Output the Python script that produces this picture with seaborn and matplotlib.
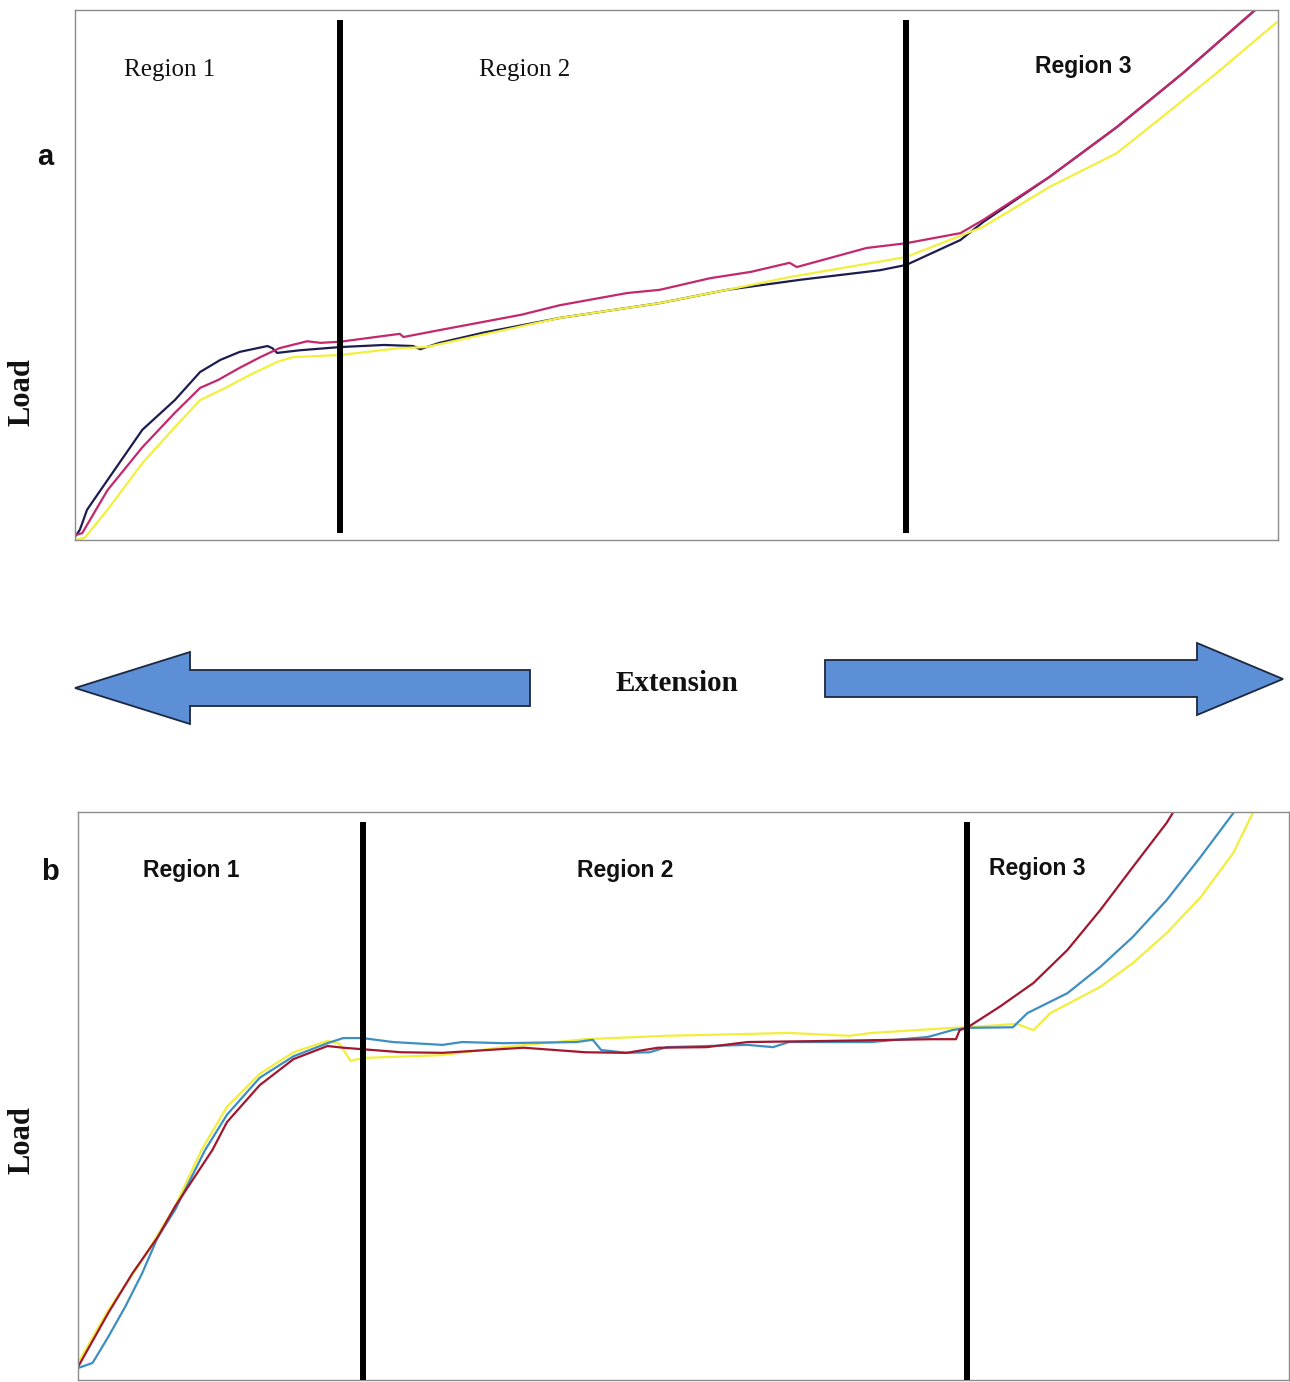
import numpy as np
import pandas as pd
import matplotlib
matplotlib.use("Agg")
import matplotlib.pyplot as plt
import seaborn as sns
from matplotlib.patches import Polygon

# ---------------- Panel a data (extension 0-100, load 0-100) ----------------
a_navy_x = [0, 0.4, 1.0, 2.7, 5.6, 8.3, 10.4, 12.1, 13.7, 16.0, 16.4, 16.8, 18.7, 22.0, 25.7, 28.1,
            28.7, 30.3, 33.9, 40.3, 48.6, 54.2, 60.3, 66.9, 69.1, 71.3, 73.6, 75.5, 81.0, 86.6, 92.1, 98.3]
a_navy_y = [0.6, 1.9, 5.7, 11.3, 20.8, 26.4, 31.7, 34.0, 35.5, 36.6, 36.2, 35.3, 35.8, 36.4, 36.8, 36.6,
            36.0, 37.2, 39.1, 41.9, 44.7, 47.2, 49.1, 50.9, 51.9, 54.2, 56.6, 60.0, 68.5, 77.9, 88.1, 100.4]

a_pink_x = [0, 0.6, 2.7, 5.6, 8.3, 10.4, 11.9, 13.7, 15.4, 17.0, 19.3, 20.4, 22.0, 27.0, 27.3, 30.3,
            37.1, 40.3, 45.9, 48.6, 52.8, 56.2, 59.4, 60.0, 65.8, 69.1, 73.6, 75.5, 81.0, 86.6, 92.1, 98.3]
a_pink_y = [0.9, 1.3, 9.4, 17.5, 24.0, 28.7, 30.2, 32.5, 34.5, 36.2, 37.5, 37.2, 37.4, 38.9, 38.3, 39.6,
            42.5, 44.3, 46.6, 47.2, 49.4, 50.6, 52.3, 51.5, 55.1, 56.0, 57.9, 60.4, 68.5, 77.9, 88.1, 100.4]

a_yellow_x = [0, 0.8, 2.7, 5.6, 8.3, 10.4, 12.5, 14.5, 16.8, 18.1, 22.0, 27.0, 29.2, 40.3, 48.6,
              54.2, 59.4, 69.1, 75.5, 81.0, 86.6, 90.8, 94.9, 99.9]
a_yellow_y = [0, 0.4, 5.7, 14.5, 21.3, 26.4, 28.7, 31.1, 33.6, 34.5, 34.9, 36.2, 36.4, 41.9, 44.7,
              47.2, 49.6, 53.4, 59.1, 66.6, 73.0, 80.6, 88.1, 97.7]

a_bounds = [22.0, 69.1]

# ---------------- Panel b data ----------------
b_yellow_x = [0, 2.5, 5.3, 8.0, 10.2, 12.3, 15.0, 17.8, 20.6, 21.6, 22.5, 23.6, 30.1, 35.1, 41.9, 48.6,
              58.7, 63.7, 65.5, 72.2, 73.4, 77.5, 78.9, 80.3, 84.4, 87.1, 89.9, 92.7, 95.4, 97.0, 97.6]
b_yellow_y = [3.0, 12.3, 21.1, 30.5, 40.5, 48.1, 53.9, 57.7, 59.7, 59.2, 56.2, 56.7, 57.2, 58.6, 60.0, 60.6,
              61.1, 60.6, 61.1, 62.0, 62.1, 62.7, 61.6, 64.6, 69.2, 73.4, 78.7, 85.0, 92.8, 99.8, 102.1]

b_blue_x = [0, 1.2, 2.5, 3.9, 5.3, 6.6, 8.0, 10.5, 12.3, 15.0, 17.8, 20.6, 21.9, 23.5, 26.0, 30.1, 31.7,
            35.1, 41.2, 42.5, 43.2, 45.3, 47.2, 48.6, 55.3, 57.4, 58.7, 65.5, 70.2, 72.2, 73.4, 77.2,
            78.4, 81.7, 84.4, 87.1, 89.9, 92.7, 95.4, 96.0]
b_blue_y = [2.1, 3.0, 7.6, 12.9, 18.8, 25.2, 29.9, 40.5, 46.7, 53.2, 57.0, 59.3, 60.2, 60.2, 59.5, 59.0, 59.5,
            59.3, 59.5, 59.9, 58.1, 57.6, 57.7, 58.6, 59.0, 58.6, 59.5, 59.5, 60.4, 61.6, 62.0, 62.1,
            64.6, 68.1, 72.7, 78.0, 84.5, 92.1, 99.8, 102.1]

b_red_x = [0, 2.5, 4.5, 6.6, 8.0, 11.1, 12.3, 15.0, 17.8, 20.6, 21.9, 26.7, 30.1, 36.8, 41.9, 45.3, 47.9,
           51.9, 55.3, 62.1, 70.5, 72.5, 72.8, 73.4, 76.1, 78.9, 81.7, 84.4, 87.1, 89.9, 90.8]
b_red_y = [2.3, 11.8, 18.8, 25.2, 30.5, 40.5, 45.4, 51.9, 56.5, 58.8, 58.5, 57.7, 57.6, 58.5, 57.7, 57.6, 58.5,
           58.6, 59.5, 59.7, 60.0, 60.0, 61.6, 62.0, 65.7, 69.9, 75.7, 82.7, 90.3, 98.1, 101.2]

b_bounds = [23.5, 73.4]

region_labels = ["Region 1", "Region 2", "Region 3"]


def frame(xs, ys, name):
    return pd.DataFrame({"Extension": xs, "Load": ys, "Sample": name})


dfa = pd.concat([frame(a_navy_x, a_navy_y, "navy"),
                 frame(a_yellow_x, a_yellow_y, "yellow"),
                 frame(a_pink_x, a_pink_y, "pink")], ignore_index=True)
dfb = pd.concat([frame(b_yellow_x, b_yellow_y, "yellow"),
                 frame(b_blue_x, b_blue_y, "blue"),
                 frame(b_red_x, b_red_y, "red")], ignore_index=True)

sns.set_theme(style="white")
plt.rcParams['font.family'] = ['DejaVu Sans']

W, H = 1290, 1382
fig = plt.figure(figsize=(W / 100, H / 100), dpi=100)
fig.patch.set_facecolor("white")

pal_a = {"navy": "#1d1c50", "yellow": "#f2f03c", "pink": "#c4286c"}
pal_b = {"yellow": "#f2ee3a", "blue": "#3d8ec2", "red": "#a3172e"}


def style_axes(ax):
    ax.set_xlim(0, 100)
    ax.set_ylim(0, 100)
    ax.set_xticks([])
    ax.set_yticks([])
    ax.set_xlabel("")
    ax.set_ylabel("")
    for s in ax.spines.values():
        s.set_color("#8c8c8c")
        s.set_linewidth(1.0)


# panel a
axa = fig.add_axes([75 / W, 1 - 540 / H, 1203 / W, 530 / H])
sns.lineplot(data=dfa, x="Extension", y="Load", hue="Sample", hue_order=["navy", "yellow", "pink"],
             palette=pal_a, sort=False, estimator=None, linewidth=1.6, legend=False, ax=axa)
style_axes(axa)
axa.vlines(a_bounds, 1.3, 98.1, color="black", linewidth=4.3, zorder=5)

# panel b
axb = fig.add_axes([78 / W, 1 - 1380 / H, 1211 / W, 568 / H])
sns.lineplot(data=dfb, x="Extension", y="Load", hue="Sample", hue_order=["yellow", "blue", "red"],
             palette=pal_b, sort=False, estimator=None, linewidth=1.6, legend=False, ax=axb)
style_axes(axb)
axb.vlines(b_bounds, 0, 98.2, color="black", linewidth=4.3, zorder=5)


def ftxt(px, py, s, **kw):
    fig.text(px / W, 1 - py / H, s, ha="center", va="center", **kw)


serif = ["Liberation Serif", "DejaVu Serif"]
sans = ["Liberation Sans", "DejaVu Sans"]

# panel a texts
ftxt(45, 157, "a", family=sans, fontweight="bold", fontsize=21, color="#111111")
ftxt(22, 392, "Load", family=serif, fontweight="bold", fontsize=22, rotation=90, color="#111111")
ftxt(170, 70, region_labels[0], family=serif, fontsize=18, color="#111111")
ftxt(525, 70, region_labels[1], family=serif, fontsize=18, color="#111111")
ftxt(1083, 67, region_labels[2], family=sans, fontweight="bold", fontsize=16.5, color="#111111")

# panel b texts
ftxt(50, 872, "b", family=sans, fontweight="bold", fontsize=21, color="#111111")
ftxt(22, 1140, "Load", family=serif, fontweight="bold", fontsize=22, rotation=90, color="#111111")
ftxt(191, 870, region_labels[0], family=sans, fontweight="bold", fontsize=16.5, color="#111111")
ftxt(625, 870, region_labels[1], family=sans, fontweight="bold", fontsize=16.5, color="#111111")
ftxt(1037, 869, region_labels[2], family=sans, fontweight="bold", fontsize=16.5, color="#111111")

# Extension label with arrows
ftxt(677, 683, "Extension", family=serif, fontweight="bold", fontsize=21, color="#111111")
ov = fig.add_axes([0, 0, 1, 1], zorder=-1)
ov.set_xlim(0, W)
ov.set_ylim(H, 0)
ov.axis("off")
left_arrow = [(75, 688), (190, 652), (190, 670), (530, 670), (530, 706), (190, 706), (190, 724)]
right_arrow = [(1283, 679), (1197, 643), (1197, 660), (825, 660), (825, 697), (1197, 697), (1197, 715)]
for pts in (left_arrow, right_arrow):
    ov.add_patch(Polygon(pts, closed=True, facecolor="#5d8fd6", edgecolor="#1b2740", linewidth=1.3))

fig.savefig("out.png", dpi=100, facecolor="white")
